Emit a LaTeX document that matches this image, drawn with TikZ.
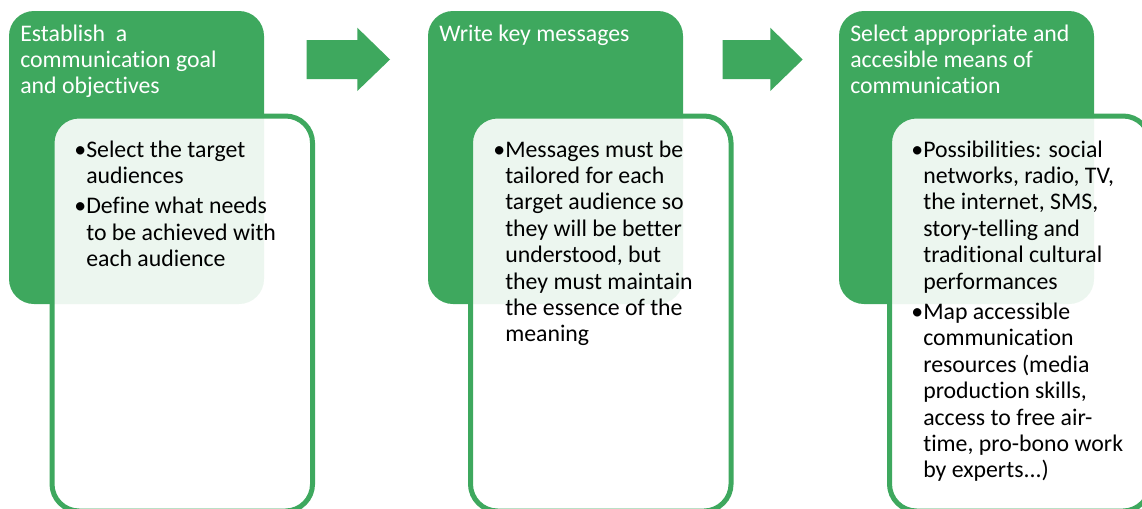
\documentclass[tikz,border=0pt]{standalone}
\usepackage{fontspec}
\setmainfont{Carlito}[Ligatures=NoCommon]
\definecolor{sgreen}{RGB}{62,168,94}
\tikzset{
  gbox/.style={rectangle, draw=none, fill=sgreen, rounded corners=18.75pt, inner sep=0pt, outer sep=0pt,
    minimum width=191.25pt, minimum height=219.75pt, anchor=north west},
  wbox/.style={rectangle, draw=sgreen, line width=3.75pt, fill=white, fill opacity=0.9, rounded corners=20.25pt,
    inner sep=0pt, outer sep=0pt, minimum width=195.4pt, minimum height=296.25pt, anchor=north west},
  hdr/.style={text=white, inner sep=0pt, anchor=base west, font=\fontsize{17.85}{19.8}\selectfont},
  bodytext/.style={text=black, inner sep=0pt, anchor=base west, font=\fontsize{17.85}{19.8}\selectfont},
  barrow/.style={fill=sgreen, draw=none}
}
\newcommand{\tb}[1]{\parbox[t]{300pt}{#1}}
\newcommand{\bul}{\leavevmode\llap{•}}
\begin{document}
\begin{tikzpicture}[x=0.75pt, y=-0.75pt]
\useasboundingbox (0,0) rectangle (1142,508);
\clip (0,0) rectangle (1142,508);
% green header boxes
\node[gbox] (g1) at (9,11) {};
\node[gbox] (g2) at (428,11) {};
\node[gbox] (g3) at (839,11) {};
% white detail boxes
\node[wbox] (w1) at (52,116) {};
\node[wbox] (w2) at (470.5,116) {};
\node[wbox] (w3) at (889.5,116) {};
% block arrows
\path[barrow] (306.7,40) -- (357.3,40) -- (357.3,27.7) -- (390,59.5) -- (357.3,91) -- (357.3,79) -- (306.7,79) -- cycle;
\path[barrow] (722.7,40) -- (770.3,40) -- (770.3,27.7) -- (802.7,59.5) -- (770.3,91) -- (770.3,79) -- (722.7,79) -- cycle;
% headers
\node[hdr] (h1) at (20,41) {\tb{Establish\ \ a\\communication goal\\and objectives}};
\node[hdr] (h2) at (439,41) {\tb{Write key messages}};
\node[hdr] (h3) at (850,41) {\tb{Select appropriate and\\accesible means of\\communication}};
% bodies
\node[bodytext] (b1) at (86,157) {\tb{\bul Select the target\\audiences\\[3pt]\bul Define what needs\\to be achieved with\\each audience}};
\node[bodytext] (b2) at (505,157) {\tb{\bul Messages must be\\tailored for each\\target audience so\\they will be better\\understood, but\\they must maintain\\the essence of the\\meaning}};
\node[bodytext] (b3) at (923,157) {\tb{\bul Possibilities: social\\networks, radio, TV,\\the internet, SMS,\\story-telling and\\traditional cultural\\performances\\[3pt]\bul Map accessible\\communication\\resources (media\\production skills,\\access to free air-\\time, pro-bono work\\by experts...)}};
\end{tikzpicture}
\end{document}
